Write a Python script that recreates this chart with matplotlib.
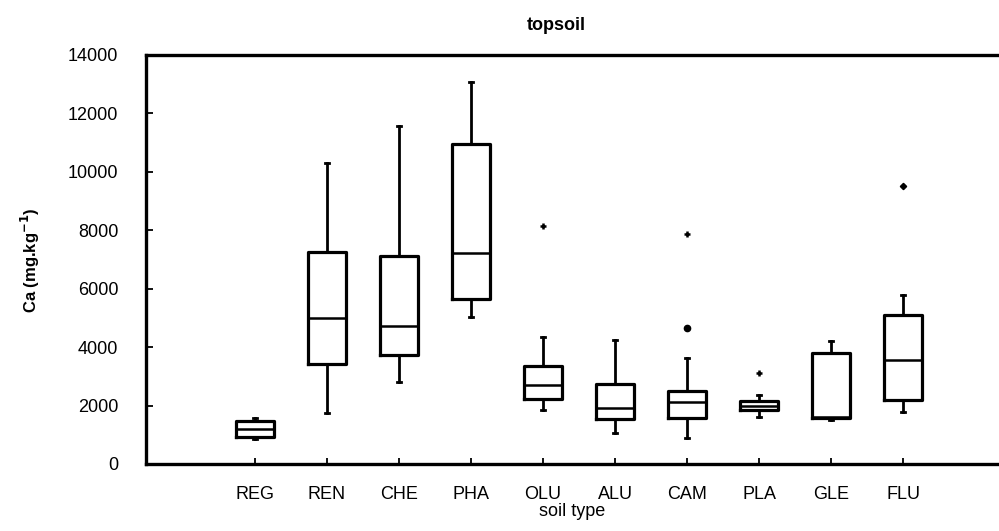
import matplotlib
matplotlib.use("Agg")
import matplotlib.pyplot as plt

plt.rcParams['font.family'] = ['Liberation Sans', 'DejaVu Sans']

soil_types = ['REG', 'REN', 'CHE', 'PHA', 'OLU', 'ALU', 'CAM', 'PLA', 'GLE', 'FLU']
whisker_low = [860, 1760, 2800, 5020, 1850, 1070, 900, 1620, 1510, 1790]
quartile_1 = [920, 3420, 3720, 5640, 2230, 1530, 1590, 1840, 1560, 2190]
medians = [1190, 4990, 4720, 7230, 2690, 1930, 2110, 2000, 1610, 3560]
quartile_3 = [1480, 7260, 7130, 10940, 3360, 2740, 2500, 2160, 3790, 5100]
whisker_high = [1560, 10290, 11580, 13060, 4360, 4250, 3640, 2370, 4210, 5780]
# extreme values drawn as "+", the others as dots / diamonds
outliers_plus = {'OLU': [8150], 'CAM': [7860], 'PLA': [3100]}
outliers_dot = {'CAM': [4660]}
outliers_diamond = {'FLU': [9520]}

stats = []
for i, name in enumerate(soil_types):
    stats.append(dict(whislo=whisker_low[i], q1=quartile_1[i], med=medians[i],
                      q3=quartile_3[i], whishi=whisker_high[i], fliers=[]))

fig = plt.figure(figsize=(9.99, 5.31), dpi=100)
ax = fig.add_axes([146 / 999, 67 / 531, 1 - 146 / 999, 409 / 531])

pos = list(range(1, len(soil_types) + 1))
ax.bxp(stats, positions=pos, widths=0.52, showfliers=False, capwidths=0.05,
       boxprops=dict(color='black', linewidth=2.3),
       medianprops=dict(color='black', linewidth=1.8),
       whiskerprops=dict(color='black', linewidth=2.0),
       capprops=dict(color='black', linewidth=2.0))

for name, vals in outliers_plus.items():
    p = pos[soil_types.index(name)]
    ax.plot([p] * len(vals), vals, marker='+', color='black', ms=5, mew=1.8, ls='none')
for name, vals in outliers_dot.items():
    p = pos[soil_types.index(name)]
    ax.plot([p] * len(vals), vals, marker='o', color='black', ms=4.5, ls='none')
for name, vals in outliers_diamond.items():
    p = pos[soil_types.index(name)]
    ax.plot([p] * len(vals), vals, marker='D', color='black', ms=3.2, ls='none')

ax.set_xlim(-0.51, 11.33)
ax.set_ylim(0, 14000)
ax.set_yticks(range(0, 14001, 2000))
ax.set_xticks(pos)
ax.set_xticklabels(soil_types)

for s in ['left', 'bottom', 'top']:
    ax.spines[s].set_linewidth(2.4)
ax.spines['right'].set_visible(False)

ax.tick_params(axis='y', direction='in', length=5, width=1.3, pad=20, labelsize=13)
ax.tick_params(axis='x', direction='in', length=4, width=1.3, pad=16, labelsize=13)

ax.set_xlabel('soil type', fontsize=13, labelpad=0)
fig.text(30 / 999, 1 - 260 / 531, 'Ca (mg.kg$^{\\mathbf{-1}}$)', rotation=90,
         ha='center', va='center', fontsize=12, fontweight='bold')
fig.text(556 / 999, 1 - 25 / 531, 'topsoil', ha='center', va='center',
         fontsize=13, fontweight='bold')

fig.savefig('out.png', dpi=100)
